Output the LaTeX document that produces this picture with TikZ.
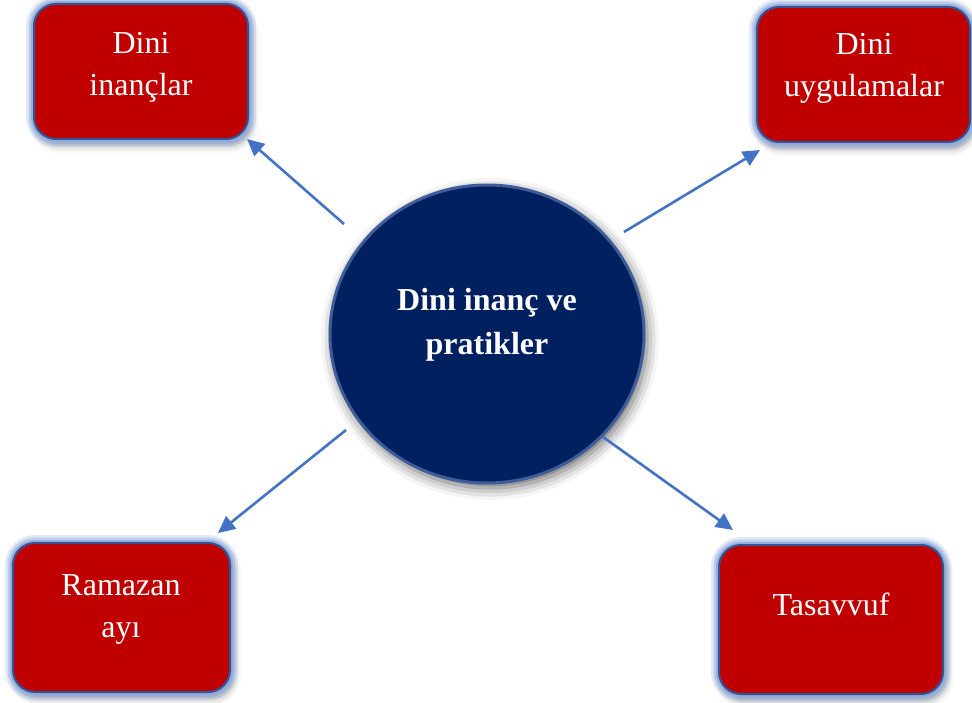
\documentclass[tikz,border=0pt]{standalone}
\usepackage{fontspec}
\setmainfont{Liberation Serif}
\usetikzlibrary{shadows.blur,arrows.meta,shapes.geometric}
\definecolor{boxred}{HTML}{C00000}
\definecolor{navy}{HTML}{002060}
\definecolor{arrowblue}{HTML}{4472C4}
\definecolor{edgeblue}{HTML}{2F5597}
\definecolor{glowblue}{HTML}{8FAADC}
\definecolor{rimblue}{HTML}{3A5A9A}
\tikzset{
  x=1pt, y=-1pt,
  rbox/.style={rectangle, rounded corners=22pt, fill=boxred, draw=edgeblue, line width=2pt, inner sep=0pt,
    blur shadow={shadow xshift=3pt, shadow yshift=-6pt, shadow blur radius=8pt, shadow opacity=40},
    preaction={draw=glowblue, line width=16pt, draw opacity=0.25},
    preaction={draw=glowblue, line width=11pt, draw opacity=0.45},
    preaction={draw=glowblue, line width=6pt, draw opacity=0.85}},
  boxtext/.style={text=white, align=center, font=\fontsize{32}{42}\selectfont},
  hub/.style={ellipse, fill=navy, draw=rimblue, line width=3pt, inner sep=0pt,
    blur shadow={shadow xshift=3pt, shadow yshift=-5pt, shadow blur radius=12pt, shadow opacity=60},
    postaction={draw=navy!70!white, line width=1pt, draw opacity=0.5}},
  hubtext/.style={text=white, align=center, font=\bfseries\fontsize{32}{44}\selectfont},
  conn/.style={draw=arrowblue, line width=2.6pt, -{Triangle[length=17pt,width=16pt]}}
}
\begin{document}
\begin{tikzpicture}
\useasboundingbox (0,0) rectangle (972,703);
% boxes
\node[rbox, minimum width=214pt, minimum height=135pt] (b1) at (141,71.5) {};
\node[rbox, minimum width=213pt, minimum height=135pt] (b2) at (863.5,74.5) {};
\node[rbox, minimum width=217pt, minimum height=149pt] (b3) at (121.5,617.5) {};
\node[rbox, minimum width=224pt, minimum height=149pt] (b4) at (831,619.5) {};
\node[boxtext] (t1) at (141,67) {Dini\\inançlar};
\node[boxtext] (t2) at (864,68) {Dini\\uygulamalar};
\node[boxtext] (t3) at (121,609) {Ramazan\\ayı};
\node[boxtext, anchor=base] (t4) at (831,615) {Tasavvuf};
% hub
\node[hub, minimum width=314pt, minimum height=298pt] (c) at (487,334) {};
\node[hubtext] (ct) at (487,325) {Dini inanç ve\\pratikler};
% connectors
\coordinate (s1) at (344,224);
\coordinate (e1) at (247,139);
\coordinate (s2) at (624,232);
\coordinate (e2) at (760,150);
\coordinate (s3) at (346,430);
\coordinate (e3) at (218,533);
\coordinate (s4) at (603,437);
\coordinate (e4) at (733,530);
\draw[conn] (s1) -- (e1);
\draw[conn] (s2) -- (e2);
\draw[conn] (s3) -- (e3);
\draw[conn] (s4) -- (e4);
\end{tikzpicture}
\end{document}
